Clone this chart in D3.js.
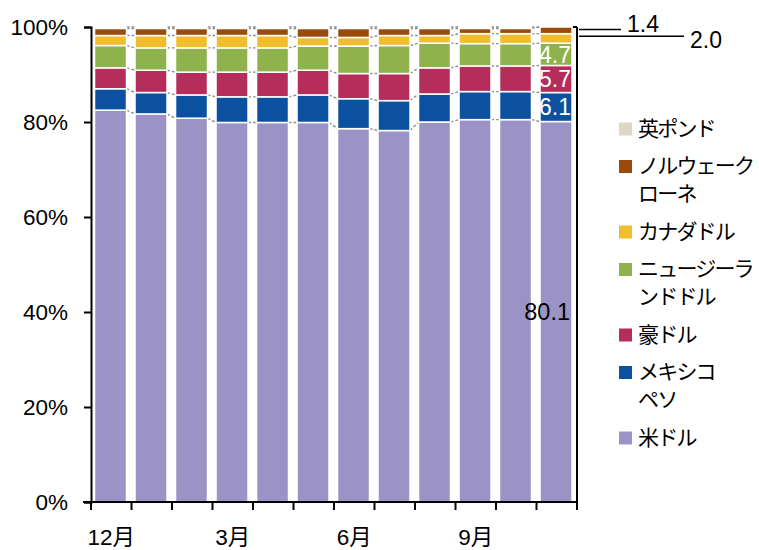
<!DOCTYPE html>
<html><head><meta charset="utf-8">
<script src="https://cdn.jsdelivr.net/npm/d3@7"></script>
<style>
body{margin:0;background:#fff;}
svg{display:block;}
</style></head>
<body><svg id="chart" width="759" height="550"></svg>
<script>
const months = ["12月","1月","2月","3月","4月","5月","6月","7月","8月","9月","10月","11月"];
const monthLabels = ["12月","","","3月","","","6月","","","9月","",""];
const seriesNames = ["米ドル","メキシコペソ","豪ドル","ニュージーランドドル","カナダドル","ノルウェークローネ","英ポンド"];
const usd = [82.5,81.7,80.8,79.9,79.9,79.9,78.6,78.2,80.0,80.5,80.5,80.1];
const mxn = [4.5,4.5,4.9,5.4,5.4,5.8,6.3,6.3,5.9,5.9,5.9,6.1];
const aud = [4.4,4.7,4.8,5.2,5.2,5.2,5.3,5.7,5.5,5.4,5.4,5.7];
const nzd = [4.7,4.7,5.1,5.1,5.1,5.1,5.8,5.9,5.2,4.7,4.7,4.7];
const cad = [2.1,2.6,2.6,2.6,2.6,1.8,1.8,2.1,1.6,2.1,2.1,2.0];
const nok = [1.5,1.5,1.5,1.5,1.5,1.9,1.9,1.5,1.5,1.1,1.1,1.4];
const gbp = [0.3,0.3,0.3,0.3,0.3,0.3,0.3,0.3,0.3,0.3,0.3,0.0];
const yTicks = [0,20,40,60,80,100];
const legendLines = [["英ポンド"],["ノルウェーク","ローネ"],["カナダドル"],["ニュージーラ","ンドドル"],["豪ドル"],["メキシコ","ペソ"],["米ドル"]];
const colors = ["#9B93C5","#0B51A0","#B52D5A","#8FB24C","#F0BD2F","#9A4A0A","#DDD8C4"];

(function(){
const seriesData = [usd,mxn,aud,nzd,cad,nok,gbp];
const rows = months.map((m,i)=>{const o={month:m}; seriesNames.forEach((s,k)=>o[s]=seriesData[k][i]); return o;});
const stack = d3.stack().keys(seriesNames)(rows);

const svg = d3.select("#chart");
const pL=91, pR=577, pT=27, pB=502;
const x = d3.scaleBand().domain(months).range([pL,pR]).padding(0);
const y = d3.scaleLinear().domain([0,100]).range([pB,pT]);
const bw = x.bandwidth();
const barOff = bw*0.087, barW = bw*0.79;
const color = d3.scaleOrdinal().domain(seriesNames).range(colors);
const numFont = "'Liberation Sans', Arial, 'Noto Sans CJK JP', sans-serif";

// connector lines
const conn = svg.append("g");
stack.forEach(layer=>{
  for(let i=0;i<layer.length-1;i++){
    conn.append("line")
      .attr("x1", x(months[i])+barOff+barW).attr("y1", y(layer[i][1]))
      .attr("x2", x(months[i+1])+barOff).attr("y2", y(layer[i+1][1]))
      .attr("stroke","#8c8c8c").attr("stroke-width",1.4).attr("stroke-dasharray","3,2");
  }
});

// bars
svg.append("g").selectAll("g").data(stack).join("g")
  .attr("fill", d=>color(d.key))
  .selectAll("rect").data(d=>d).join("rect")
  .attr("x", d=>x(d.data.month)+barOff)
  .attr("width", barW)
  .attr("y", d=>y(d[1]))
  .attr("height", d=>Math.max(0,y(d[0])-y(d[1])))
  .attr("stroke","#fff").attr("stroke-width",1.5);

// y axis
const yAxis = svg.append("g").attr("transform",`translate(${pL},0)`)
  .call(d3.axisLeft(y).tickValues(yTicks).tickSize(7).tickPadding(16).tickFormat(d=>d+"%"));
yAxis.select(".domain").attr("stroke","#000").attr("stroke-width",2);
yAxis.selectAll(".tick line").attr("stroke","#000").attr("stroke-width",2);
yAxis.selectAll("text").attr("font-family",numFont).attr("font-size",22.5).attr("fill","#000");

// x axis line + boundary ticks
const xBound = months.map(m=>x(m)).concat([pR]);
svg.append("line").attr("x1",pL-8).attr("x2",pR).attr("y1",pB).attr("y2",pB)
  .attr("stroke","#000").attr("stroke-width",2);
svg.append("g").selectAll("line").data(xBound).join("line")
  .attr("x1",d=>d).attr("x2",d=>d).attr("y1",pB).attr("y2",pB+8)
  .attr("stroke","#000").attr("stroke-width",2);
svg.append("g").selectAll("text").data(months).join("text")
  .attr("x",d=>x(d)+bw/2).attr("y",545)
  .attr("text-anchor","middle").attr("font-family",numFont).attr("font-size",22.5)
  .text((d,i)=>monthLabels[i]);

// right frame
svg.append("line").attr("x1",pR).attr("x2",pR).attr("y1",pT).attr("y2",pB)
  .attr("stroke","#000").attr("stroke-width",2);
svg.append("line").attr("x1",pR-4).attr("x2",pR).attr("y1",pT).attr("y2",pT)
  .attr("stroke","#000").attr("stroke-width",2);

// value labels for last bar
const last = months.length-1;
const lx = x(months[last])+barOff+barW-1;
[1,2,3].forEach(k=>{
  const d = stack[k][last];
  svg.append("text").attr("x",lx).attr("y",y((d[0]+d[1])/2)).attr("dy","0.36em")
    .attr("text-anchor","end").attr("font-family",numFont).attr("font-size",23).attr("fill","#fff")
    .text(d3.format(".1f")(d[1]-d[0]));
});
{
  const d = stack[0][last];
  svg.append("text").attr("x",lx-1).attr("y",y((d[0]+d[1])/2)).attr("dy","0.36em")
    .attr("text-anchor","end").attr("font-family",numFont).attr("font-size",23.5).attr("fill","#000")
    .text(d3.format(".1f")(d[1]-d[0]));
}
// leader labels for NOK and CAD
const leaders = [{k:5,x2:621,yy:29.5,tx:627,ty:32},{k:4,x2:684,yy:36.3,tx:690,ty:48}];
leaders.forEach(o=>{
  const d = stack[o.k][last];
  svg.append("line").attr("x1",pR+2).attr("x2",o.x2).attr("y1",o.yy).attr("y2",o.yy)
    .attr("stroke","#000").attr("stroke-width",1.5);
  svg.append("text").attr("x",o.tx).attr("y",o.ty).attr("font-family",numFont).attr("font-size",23)
    .text(d3.format(".1f")(d[1]-d[0]));
});

// legend (top = 英ポンド)
const legendColors = colors.slice().reverse();
let ly = 128;
const lg = svg.append("g");
legendLines.forEach((lines,i)=>{
  lg.append("rect").attr("x",619).attr("y",ly-5.5).attr("width",13).attr("height",13).attr("fill",legendColors[i]);
  lines.forEach((t,j)=>{
    lg.append("text").attr("x",638).attr("y",ly+j*28+7.5)
      .attr("font-family","'Noto Sans CJK JP', sans-serif").attr("font-size",21)
      .attr("letter-spacing","-1.8px").text(t);
  });
  ly += (lines.length-1)*28 + 37.5;
});
})();
</script></body></html>
